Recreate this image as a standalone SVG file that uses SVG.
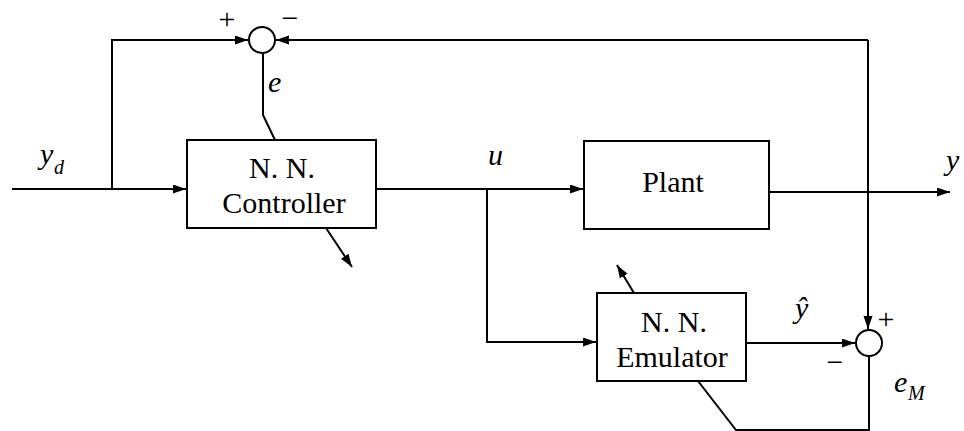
<svg xmlns="http://www.w3.org/2000/svg" width="964" height="431" viewBox="0 0 964 431" font-family="Liberation Serif, DejaVu Serif, serif">
<style>
.ln{fill:none;stroke:#000;stroke-width:2}
.box{fill:#fff;stroke:#000;stroke-width:2}
.sum{fill:#fff;stroke:#000;stroke-width:2}
.t{font-size:30px;text-anchor:middle}
.i{font-style:italic;font-size:30px}
.s{font-style:italic;font-size:20px}
.sg{font-size:30px;text-anchor:middle}
</style>
<defs>
<marker id="ah" markerUnits="userSpaceOnUse" markerWidth="14" markerHeight="10" refX="13" refY="4.5" orient="auto">
<path d="M0,0 L13,4.5 L0,9 Z" fill="#000"/>
</marker>
</defs>
<rect width="964" height="431" fill="#fff"/>
<g id="connectors">
<path class="ln" d="M12,189 H186" marker-end="url(#ah)"/>
<path class="ln" d="M112,189 V40 H248" marker-end="url(#ah)"/>
<path class="ln" d="M868,40 H276" marker-end="url(#ah)"/>
<path class="ln" d="M868,40 V329" marker-end="url(#ah)"/>
<path class="ln" d="M263,53 V115 L275,140"/>
<path class="ln" d="M376,189 H583" marker-end="url(#ah)"/>
<path class="ln" d="M769,192 H950" marker-end="url(#ah)"/>
<path class="ln" d="M487,189 V342 H596" marker-end="url(#ah)"/>
<path class="ln" d="M746,343 H855" marker-end="url(#ah)"/>
<path class="ln" d="M869,356 V430 H736 L698,381"/>
<path class="ln" d="M326,228 L352,267" marker-end="url(#ah)"/>
<path class="ln" d="M634,293 L617,265" marker-end="url(#ah)"/>
</g>
<g id="sum1">
<circle class="sum" cx="262" cy="40" r="13"/>
<text class="sg" x="227" y="29" font-family="Liberation Serif">+</text>
<text class="sg" x="290" y="28" font-family="Liberation Serif">−</text>
</g>
<g id="sum2">
<circle class="sum" cx="869" cy="343" r="13"/>
<text class="sg" x="886" y="329" font-family="Liberation Serif">+</text>
<text class="sg" x="835" y="372" font-family="Liberation Serif">−</text>
</g>
<g id="controller">
<rect class="box" x="187" y="140" width="189" height="88"/>
<text class="t" x="282" y="178" font-family="Liberation Serif">N. N.</text>
<text class="t" x="284" y="213" font-family="Liberation Serif">Controller</text>
</g>
<g id="plant">
<rect class="box" x="584" y="141" width="185" height="88"/>
<text class="t" x="673" y="192" font-family="Liberation Serif">Plant</text>
</g>
<g id="emulator">
<rect class="box" x="597" y="293" width="149" height="88"/>
<text class="t" x="674" y="332" font-family="Liberation Serif">N. N.</text>
<text class="t" x="672" y="367" font-family="Liberation Serif">Emulator</text>
</g>
<g id="labels">
<text class="i" x="40" y="164" font-family="Liberation Serif">y</text>
<text class="s" x="54" y="174" font-family="Liberation Serif">d</text>
<text class="i" x="268" y="92" font-family="Liberation Serif">e</text>
<text class="i" x="488" y="165" font-family="Liberation Serif">u</text>
<text class="i" x="946" y="170" font-family="Liberation Serif">y</text>
<text class="i" x="795" y="318" font-family="Liberation Serif">ŷ</text>
<text class="i" x="894" y="392" font-family="Liberation Serif">e</text>
<text class="s" x="908" y="400" font-family="Liberation Serif">M</text>
</g>
</svg>
